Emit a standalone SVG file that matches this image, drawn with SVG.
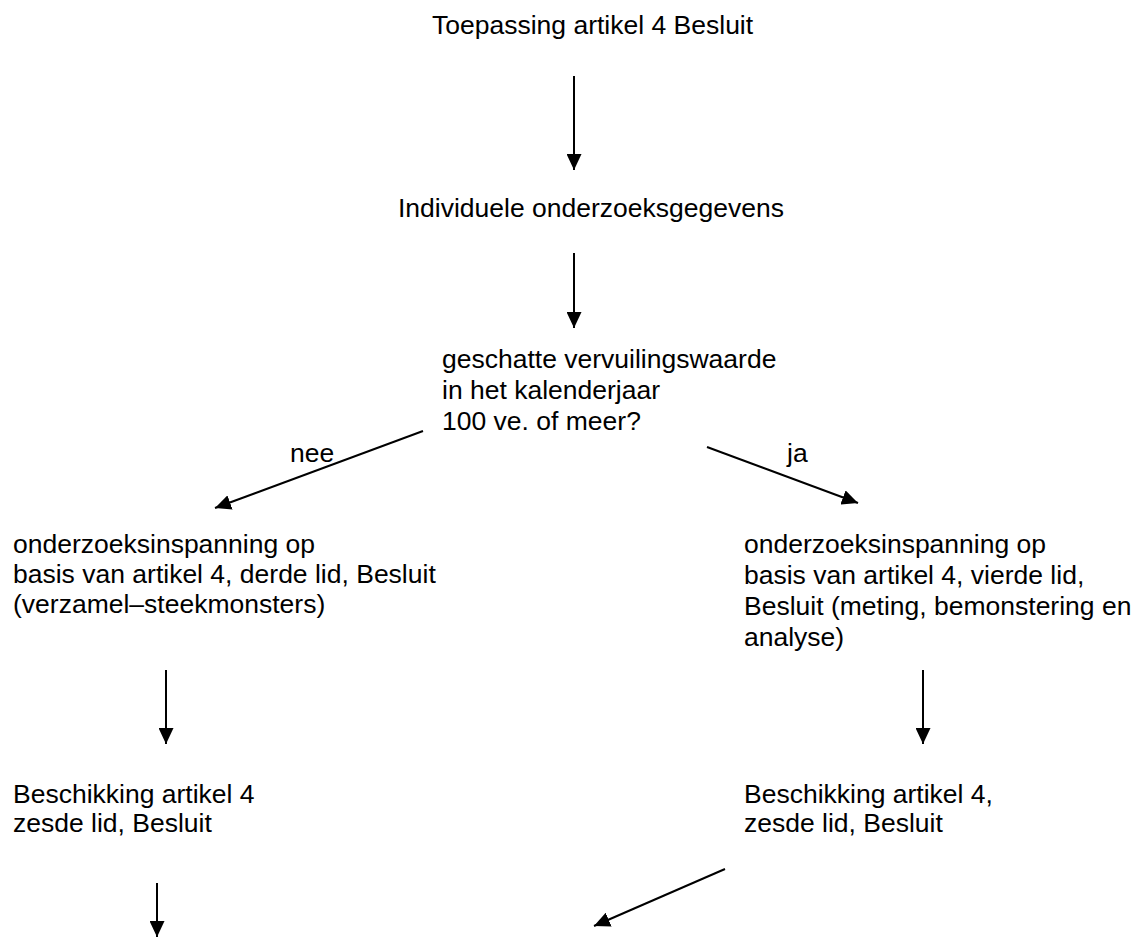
<svg xmlns="http://www.w3.org/2000/svg" width="1137" height="938" viewBox="0 0 1137 938">
<style>
text{font-family:"Liberation Sans",Arial,sans-serif;font-size:26.5px;fill:#000}
.c{stroke:#000;stroke-width:2;fill:none;marker-end:url(#ah)}
</style>
<defs>
<marker id="ah" markerUnits="userSpaceOnUse" markerWidth="16" markerHeight="15" refX="16" refY="7.5" orient="auto">
<path d="M0,0 L16,7.5 L0,15 Z" fill="#000"/>
</marker>
</defs>
<rect width="1137" height="938" fill="#fff"/>
<g id="n1"><text x="432" y="34">Toepassing artikel 4 Besluit</text></g>
<g id="n2"><text x="398" y="217">Individuele onderzoeksgegevens</text></g>
<g id="n3"><text x="442" y="368">geschatte vervuilingswaarde</text><text x="442" y="399">in het kalenderjaar</text><text x="442" y="430">100 ve. of meer?</text></g>
<g id="n4"><text x="13" y="553">onderzoeksinspanning op</text><text x="13" y="583">basis van artikel 4, derde lid, Besluit</text><text x="13" y="613">(verzamel–steekmonsters)</text></g>
<g id="n5"><text x="744" y="553">onderzoeksinspanning op</text><text x="744" y="584">basis van artikel 4, vierde lid,</text><text x="744" y="615">Besluit (meting, bemonstering en</text><text x="744" y="646">analyse)</text></g>
<g id="n6"><text x="13" y="803">Beschikking artikel 4</text><text x="13" y="832">zesde lid, Besluit</text></g>
<g id="n7"><text x="744" y="803">Beschikking artikel 4,</text><text x="744" y="832">zesde lid, Besluit</text></g>
<g id="connectors">
<line class="c" x1="574" y1="76" x2="574" y2="170"/>
<line class="c" x1="574" y1="253" x2="574" y2="328"/>
<line class="c" x1="423" y1="431" x2="215" y2="508"/>
<line class="c" x1="707" y1="447" x2="858" y2="503"/>
<line class="c" x1="166" y1="670" x2="166" y2="744"/>
<line class="c" x1="923" y1="670" x2="923" y2="744"/>
<line class="c" x1="157" y1="883" x2="157" y2="937"/>
<line class="c" x1="725" y1="869" x2="594" y2="926"/>
<text x="290" y="462">nee</text>
<text x="787" y="462">ja</text>
</g>
</svg>
